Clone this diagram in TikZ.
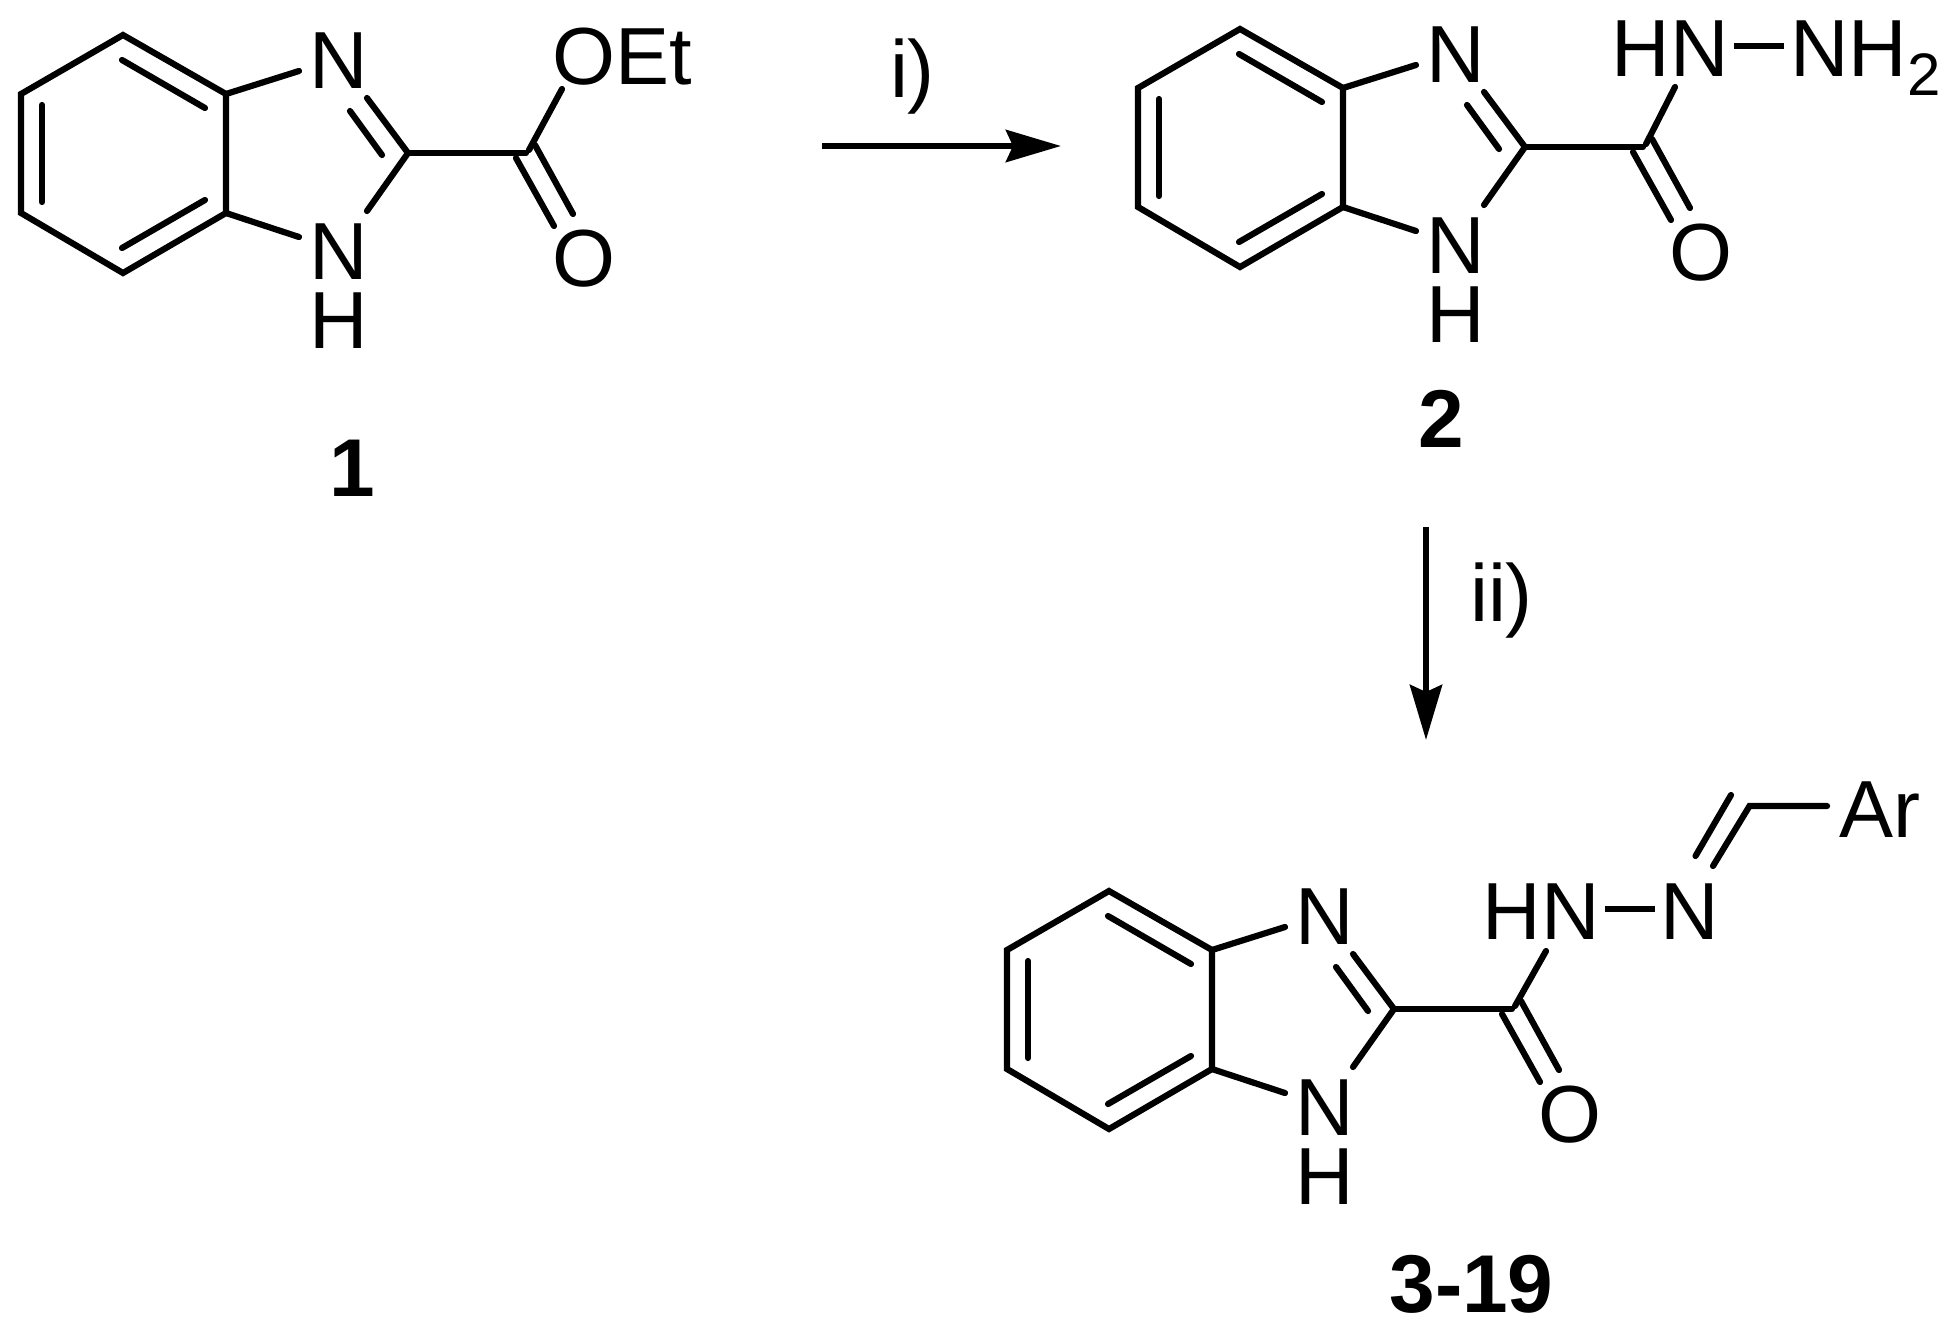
\documentclass[tikz,border=0pt]{standalone}
\usepackage{fontspec}
\setmainfont{Liberation Sans}
\usetikzlibrary{arrows.meta}
\tikzset{
  bond/.style={line width=6.2pt,line cap=round,line join=miter,black},
  atom/.style={inner sep=0pt,outer sep=0pt,anchor=base,font=\fontsize{81}{81}\selectfont},
  atomw/.style={atom,anchor=base west},
  cmpd/.style={inner sep=0pt,outer sep=0pt,anchor=base,font=\fontsize{82}{82}\selectfont\bfseries},
  rxn/.style={line width=6.5pt,-{Stealth[length=55pt,width=32pt,inset=7pt]}}
}
\newcommand{\benzimid}[4]{%
  \begin{scope}[shift={(#2,#3)}]
    \coordinate (#1-r1) at (123,35);
    \coordinate (#1-r2) at (21,94);
    \coordinate (#1-r3) at (21,213);
    \coordinate (#1-r4) at (123,273);
    \coordinate (#1-r5) at (226,213);
    \coordinate (#1-r6) at (226,94);
    \coordinate (#1-i1a) at (122,60);  \coordinate (#1-i1b) at (205,108);
    \coordinate (#1-i2a) at (42,105);  \coordinate (#1-i2b) at (42,202);
    \coordinate (#1-i3a) at (205,200); \coordinate (#1-i3b) at (122,248);
    \coordinate (#1-n1) at (299,71);
    \coordinate (#1-n3) at (299,237);
    \coordinate (#1-c2) at (408,153);
    \coordinate (#1-d1) at (367,98);
    \coordinate (#1-d2a) at (350,111); \coordinate (#1-d2b) at (382,155);
    \coordinate (#1-n4) at (367,211);
    \coordinate (#1-co) at (526,153);
    \coordinate (#1-o1a) at (535,145); \coordinate (#1-o1b) at (573,214);
    \coordinate (#1-o2a) at (516,158); \coordinate (#1-o2b) at (554,226);
    \coordinate (#1-os) at (529,150);
    \coordinate (#1-top) at (#4);
    \node[atom] (#1-Nup) at (338.5,88) {N};
    \node[atom] (#1-Nlo) at (338.5,279) {N};
    \node[atom] (#1-H) at (338.5,348) {H};
    \node[atom] (#1-O) at (584,286) {O};
    \draw[bond] (#1-r1) -- (#1-r2) -- (#1-r3) -- (#1-r4) -- (#1-r5) -- (#1-r6) -- cycle;
    \draw[bond] (#1-i1a) -- (#1-i1b);
    \draw[bond] (#1-i2a) -- (#1-i2b);
    \draw[bond] (#1-i3a) -- (#1-i3b);
    \draw[bond] (#1-r6) -- (#1-n1);
    \draw[bond] (#1-r5) -- (#1-n3);
    \draw[bond] (#1-d1) -- (#1-c2) -- (#1-n4);
    \draw[bond] (#1-d2a) -- (#1-d2b);
    \draw[bond] (#1-c2) -- (#1-co);
    \draw[bond] (#1-o1a) -- (#1-o1b);
    \draw[bond] (#1-o2a) -- (#1-o2b);
    \draw[bond] (#1-os) -- (#1-top);
  \end{scope}}
\begin{document}
\begin{tikzpicture}[x=1pt,y=-1pt]
  \useasboundingbox (0,0) rectangle (1953,1336);
  % compound 1
  \benzimid{a}{0}{0}{562,89}
  \node[atomw] (oet) at (552,84) {OEt};
  \node[cmpd,anchor=base west] (l1) at (329,496) {1};
  % compound 2
  \benzimid{b}{1117}{-6}{558,93}
  \node[atomw] (hn2) at (1611.5,76) {HN};
  \node[atomw] (nh2) at (1790,76) {NH\raisebox{-19pt}{\fontsize{60}{60}\selectfont 2}};
  \coordinate (b-ha) at (1734,46);
  \coordinate (b-hb) at (1784,46);
  \draw[bond,line cap=butt] (b-ha) -- (b-hb);
  \node[cmpd] (l2) at (1441,447) {2};
  % compound 3-19
  \benzimid{c}{986}{856}{560,95}
  \node[atomw] (hn3) at (1482.5,939.5) {HN};
  \node[atom] (n3) at (1690,939.5) {N};
  \node[atomw] (ar) at (1839,837) {Ar};
  \coordinate (c-ha) at (1605,909);
  \coordinate (c-hb) at (1655,909);
  \coordinate (c-e1a) at (1713,866);
  \coordinate (c-ch) at (1749.5,806);
  \coordinate (c-e2a) at (1695.5,856);
  \coordinate (c-e2b) at (1731,795);
  \coordinate (c-ar) at (1827,806);
  \draw[bond,line cap=butt] (c-ha) -- (c-hb);
  \draw[bond] (c-e1a) -- (c-ch) -- (c-ar);
  \draw[bond] (c-e2a) -- (c-e2b);
  \node[cmpd] (l3) at (1471.5,1312) {3-19};
  % arrows
  \coordinate (a1s) at (822,146);
  \coordinate (a1e) at (1061,146);
  \draw[rxn] (a1s) -- (a1e);
  \node[atomw] (ri) at (890,97) {i)};
  \coordinate (a2s) at (1426,527);
  \coordinate (a2e) at (1426,740);
  \draw[rxn] (a2s) -- (a2e);
  \node[atomw] (rii) at (1470,621) {ii)};
\end{tikzpicture}
\end{document}
